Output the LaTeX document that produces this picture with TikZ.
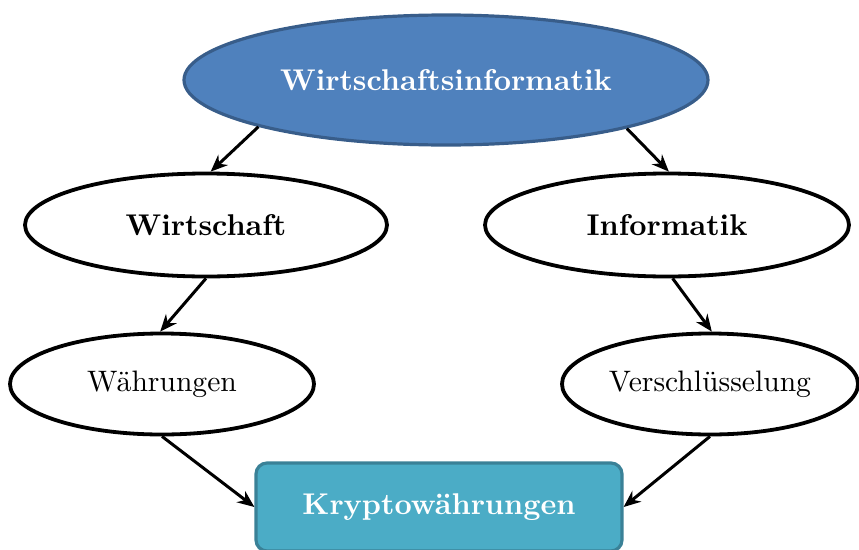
\documentclass[tikz,border=0pt]{standalone}
\usepackage{fontspec}
\usetikzlibrary{shapes.geometric,arrows.meta}
% Computer Modern at its 10pt design size, scaled up
\setmainfont{lmroman10-regular.otf}[BoldFont=lmroman10-bold.otf]
\definecolor{topfill}{HTML}{4F81BD}
\definecolor{topline}{HTML}{385D8A}
\definecolor{boxfill}{HTML}{4BACC6}
\definecolor{boxline}{HTML}{3A8197}
\tikzset{
  lbl/.style={font=\fontsize{29.6}{32}\selectfont},
  lblb/.style={font=\fontsize{30}{32}\selectfont\bfseries},
  oval/.style={ellipse, draw=black, line width=3.8pt, fill=white, inner sep=0pt, lbl},
  rootoval/.style={ellipse, draw=topline, line width=3.2pt, fill=topfill, inner sep=0pt,
                   text=white, lblb},
  resultbox/.style={rectangle, rounded corners=11pt, draw=boxline, line width=3.2pt,
                    fill=boxfill, inner sep=0pt, text=white, lblb},
  link/.style={-{Stealth[length=17pt,width=14pt]}, line width=3pt, black}
}
\begin{document}
\begin{tikzpicture}[x=1pt, y=-1pt]
  \useasboundingbox (0,0) rectangle (859,549);

  % hierarchy nodes
  \node[rootoval, minimum width=524pt, minimum height=130pt] (root) at (446,80) {Wirtschaftsinformatik};
  \node[oval, lblb, minimum width=362pt, minimum height=103pt] (wi) at (206,225) {Wirtschaft};
  \node[oval, lblb, minimum width=364pt, minimum height=103pt] (inf) at (667,225) {Informatik};
  \node[oval, minimum width=304pt, minimum height=101pt] (wae) at (162,384) {Währungen};
  \node[oval, minimum width=296pt, minimum height=101pt] (ver) at (710,384) {Verschlüsselung};
  \node[resultbox, minimum width=366pt, minimum height=88pt] (kry) at (439,507) {Kryptowährungen};

  % connectors
  \draw[link] (root.194.6) -- (wi.85);
  \draw[link] (root.345.5) -- (inf.88);
  \draw[link] (wi.270) -- (wae.92);
  \draw[link] (inf.276) -- (ver.88);
  \draw[link] (wae.270) -- (kry.west);
  \draw[link] (ver.270) -- (kry.east);
\end{tikzpicture}
\end{document}
